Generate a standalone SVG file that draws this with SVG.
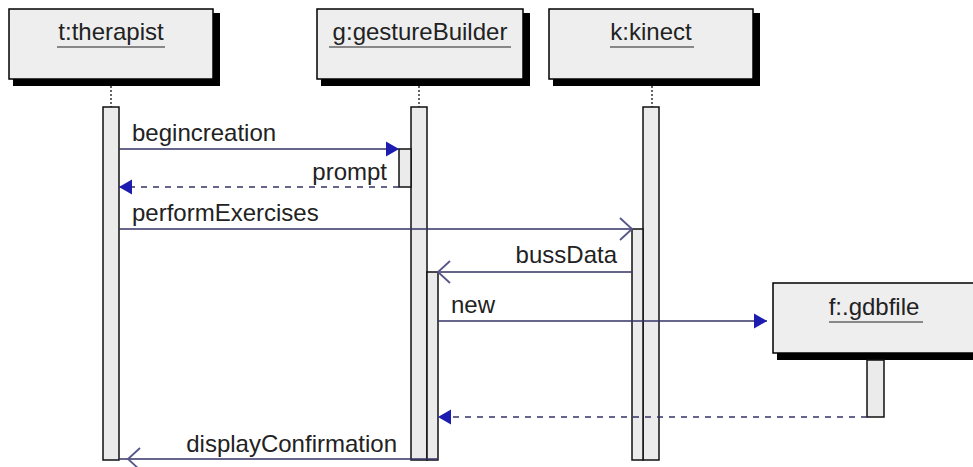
<svg xmlns="http://www.w3.org/2000/svg" width="973" height="467" viewBox="0 0 973 467">
<style>
.box{fill:#eeeeee;stroke:#000;stroke-width:1.5}
.shadow{fill:#000}
.bar{fill:#ebebeb;stroke:#111;stroke-width:1.5}
.life{stroke:#333;stroke-width:1.5;stroke-dasharray:2,2}
.name{font-family:"Liberation Sans",Arial,sans-serif;font-size:24px;fill:#222;text-anchor:middle}
.ul{stroke:#222;stroke-width:1.2}
.msg{stroke:#333366;stroke-width:1.3;fill:none}
.dash{stroke-dasharray:6,6}
.lbl{font-family:"Liberation Sans",Arial,sans-serif;font-size:24px;fill:#222}
</style>
<defs>
<marker id="filled" markerUnits="userSpaceOnUse" markerWidth="14" markerHeight="16" refX="13" refY="7.5" orient="auto" overflow="visible">
<path d="M0,0 L13,7.5 L0,15 z" fill="#1c1cb0"/>
</marker>
<marker id="open" markerUnits="userSpaceOnUse" markerWidth="14" markerHeight="24" refX="12" refY="11" orient="auto" overflow="visible">
<path d="M0,0 L12,11 L0,22" fill="none" stroke="#55558a" stroke-width="1.8"/>
</marker>
</defs>
<rect width="973" height="467" fill="#fff"/>

<g id="therapist">
<rect class="shadow" x="13" y="13" width="207" height="73"/>
<rect class="box" x="9" y="9" width="204" height="70"/>
<text class="name" x="111" y="40">t:therapist</text>
<line class="ul" x1="57" y1="47" x2="165" y2="47"/>
<line class="life" x1="111" y1="86" x2="111" y2="107"/>
<rect class="bar" x="103" y="107" width="16" height="353"/>
</g>

<g id="gestureBuilder">
<rect class="shadow" x="321" y="13" width="209" height="73"/>
<rect class="box" x="317" y="9" width="206" height="70"/>
<text class="name" x="420" y="40">g:gestureBuilder</text>
<line class="ul" x1="329" y1="47" x2="511" y2="47"/>
<line class="life" x1="419" y1="86" x2="419" y2="107"/>
<rect class="bar" x="411" y="107" width="16" height="353"/>
<rect class="bar" x="399" y="149" width="12" height="38"/>
<rect class="bar" x="427" y="272" width="11" height="188"/>
</g>

<g id="kinect">
<rect class="shadow" x="553" y="13" width="207" height="73"/>
<rect class="box" x="549" y="9" width="204" height="70"/>
<text class="name" x="651" y="40">k:kinect</text>
<line class="ul" x1="610" y1="47" x2="694" y2="47"/>
<line class="life" x1="652" y1="86" x2="652" y2="107"/>
<rect class="bar" x="643" y="107" width="16" height="353"/>
<rect class="bar" x="632" y="229" width="11" height="231"/>
</g>

<g id="gdbfile">
<rect class="shadow" x="777" y="287" width="207" height="73"/>
<rect class="box" x="773" y="283" width="204" height="70"/>
<text class="name" x="874" y="315">f:.gdbfile</text>
<line class="ul" x1="829" y1="322" x2="923" y2="322"/>
<rect class="bar" x="867" y="360" width="17" height="57"/>
</g>

<g id="connectors">
<line class="msg" x1="119" y1="149" x2="399" y2="149" marker-end="url(#filled)"/>
<text class="lbl" x="132" y="141">begincreation</text>
<line class="msg dash" x1="399" y1="187" x2="119" y2="187" marker-end="url(#filled)"/>
<text class="lbl" x="387" y="180" text-anchor="end">prompt</text>
<line class="msg" x1="119" y1="229" x2="632" y2="229" marker-end="url(#open)"/>
<text class="lbl" x="132" y="221">performExercises</text>
<line class="msg" x1="632" y1="272" x2="438" y2="272" marker-end="url(#open)"/>
<text class="lbl" x="617" y="263" text-anchor="end">bussData</text>
<line class="msg" x1="438" y1="321" x2="767" y2="321" marker-end="url(#filled)"/>
<text class="lbl" x="451" y="313">new</text>
<line class="msg dash" x1="867" y1="417" x2="438" y2="417" marker-end="url(#filled)"/>
<line class="msg" x1="438" y1="459" x2="119" y2="459"/>
<path d="M140,448 L128,459 L140,470" fill="none" stroke="#55558a" stroke-width="1.8"/>
<text class="lbl" x="397" y="452" text-anchor="end">displayConfirmation</text>
</g>
</svg>
